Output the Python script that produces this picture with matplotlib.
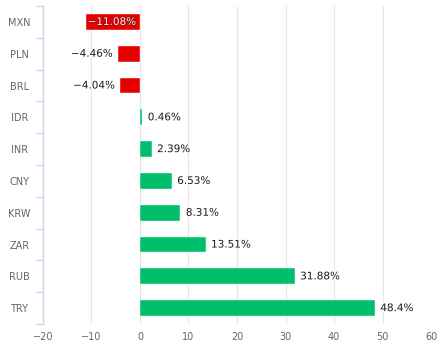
import numpy as np
import matplotlib.pyplot as plt
import matplotlib.patheffects as pe

cats = ['MXN', 'PLN', 'BRL', 'IDR', 'INR', 'CNY', 'KRW', 'ZAR', 'RUB', 'TRY']
vals = [-11.08, -4.46, -4.04, 0.46, 2.39, 6.53, 8.31, 13.51, 31.88, 48.4]
labels = ['-11.08%', '-4.46%', '-4.04%', '0.46%', '2.39%', '6.53%', '8.31%', '13.51%', '31.88%', '48.4%']

fig = plt.figure(figsize=(4.43, 3.53), dpi=100)
ax = fig.add_axes([0.097, 0.082, 0.876, 0.901])

y = np.arange(len(cats))
cols = ['#e60000' if v < 0 else '#00bf6b' for v in vals]
ax.barh(y, vals, height=0.5, color=cols, edgecolor='white', linewidth=0.3, zorder=3)

for i, v in enumerate(vals):
    lab = labels[i].replace('-', '\u2212')
    if v < -10:
        # label doesn't fit outside, goes inside the bar
        ax.annotate(lab, (v, i), xytext=(1, 0), textcoords='offset points',
                    ha='left', va='center', fontsize=7.5, color='white', zorder=4,
                    path_effects=[pe.withStroke(linewidth=0.8, foreground='#7a0000')])
    elif v < 0:
        ax.annotate(lab, (v, i), xytext=(-4, 0), textcoords='offset points',
                    ha='right', va='center', fontsize=7.5, color='#1a1a1a', zorder=4,
                    path_effects=[pe.withStroke(linewidth=1.5, foreground='white')])
    else:
        ax.annotate(lab, (v, i), xytext=(4, 0), textcoords='offset points',
                    ha='left', va='center', fontsize=7.5, color='#1a1a1a', zorder=4,
                    path_effects=[pe.withStroke(linewidth=1.5, foreground='white')])

ax.set_xlim(-20, 60)
ax.set_xticks(np.arange(-20, 61, 10))
ax.set_xticklabels([str(t).replace('-', '\u2212') for t in range(-20, 61, 10)])
ax.set_ylim(len(cats) - 0.5, -0.5)
ax.set_yticks(y)
ax.set_yticklabels(cats, ha='center')
ax.set_yticks(np.arange(-0.5, len(cats), 1), minor=True)

ax.grid(axis='x', color='#e6e6e6', linewidth=0.8, zorder=0)
for s in ['top', 'right', 'bottom']:
    ax.spines[s].set_visible(False)
ax.spines['left'].set_color('#ccd6eb')
ax.spines['left'].set_linewidth(1)

ax.tick_params(axis='y', which='major', length=0, pad=17, labelsize=7, labelcolor='#666666')
ax.tick_params(axis='y', which='minor', length=5, color='#ccd6eb', width=1)
ax.tick_params(axis='x', length=0, pad=6, labelsize=7, labelcolor='#666666')

fig.savefig('out.png', dpi=100)
